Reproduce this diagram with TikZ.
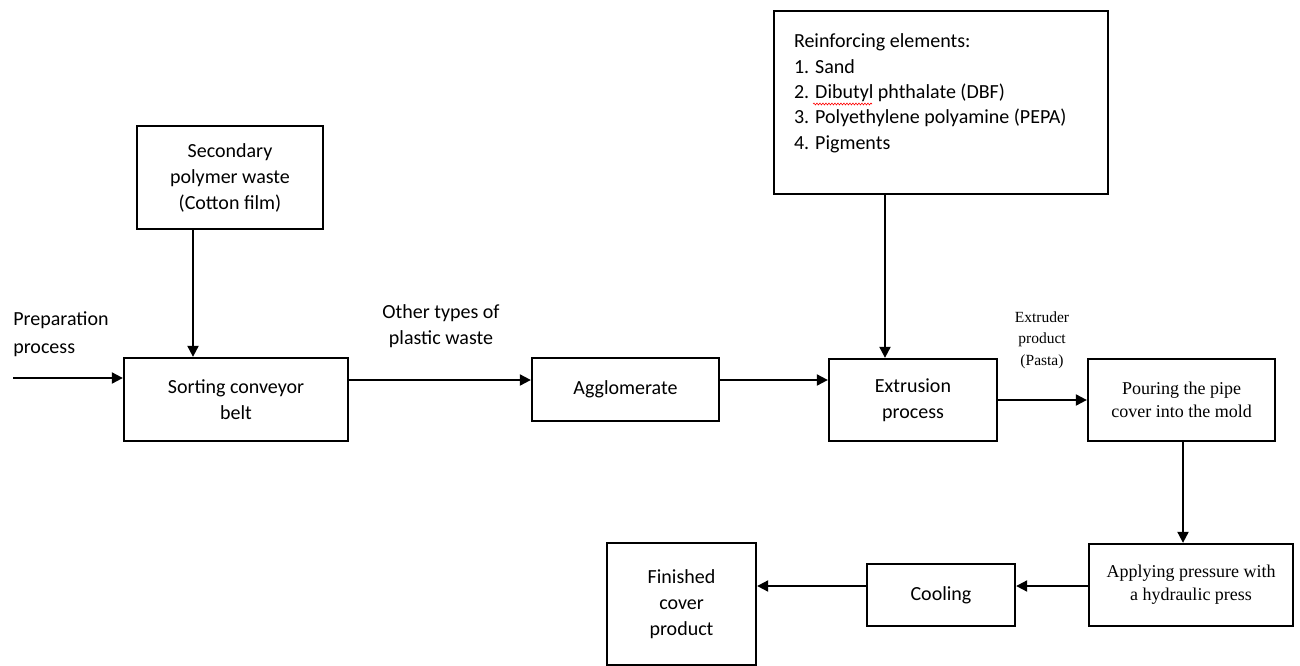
\documentclass[tikz,border=0pt]{standalone}
\usepackage{fontspec}
\setmainfont{Carlito}
\newfontfamily\serifnr{Liberation Serif}
\usetikzlibrary{arrows.meta,decorations.pathmorphing}
\tikzset{ block/.style={draw,line width=2.3pt,align=center,inner sep=2pt,font=\fontsize{20}{26}\selectfont},
  tnrblock/.style={block,font=\serifnr\fontsize{18}{23}\selectfont} }

\begin{document}
\begin{tikzpicture}[x=1pt,y=-1pt,-{Triangle[width=11pt,length=11pt]},line width=2pt]
   \useasboundingbox (0,0) rectangle (1300,666);
   \node[block,minimum width=186pt,minimum height=103pt] (waste) at (230,177.5) {Secondary\\polymer waste\\(Cotton film)};
   \node[block,minimum width=224pt,minimum height=83pt] (sort) at (236,399.5) {Sorting conveyor\\belt};
   \node[block,minimum width=187pt,minimum height=63pt] (agg) at (625.5,389.5) {Agglomerate};
   \node[block,minimum width=168pt,minimum height=82pt] (extr) at (913,400) {Extrusion\\process};
   \node[block,minimum width=334pt,minimum height=183pt] (reinf) at (941,102.5) {};
   \node[anchor=north west,align=left,inner sep=0pt,font=\fontsize{20}{25.3}\selectfont] (reinftxt) at (793,33)
      {Reinforcing elements:\\1. Sand\\2. Dibutyl phthalate (DBF)\\3. Polyethylene polyamine (PEPA)\\4. Pigments};
   \node[tnrblock,minimum width=187pt,minimum height=82pt] (pour) at (1181.5,400) {Pouring the pipe\\cover into the mold};
   \node[tnrblock,minimum width=204pt,minimum height=82pt] (press) at (1191,585) {Applying pressure with\\a hydraulic press};
   \node[block,minimum width=148pt,minimum height=62pt] (cool) at (941,595) {Cooling};
   \node[block,minimum width=149pt,minimum height=122pt] (fin) at (681.5,604) {Finished\\cover\\product};
   % labels
   \node[anchor=west,align=left,font=\fontsize{20}{28}\selectfont] (preplbl) at (9,334) {Preparation\\process};
   \node[align=center,font=\fontsize{20}{26}\selectfont] (otherlbl) at (441,326) {Other types of\\plastic waste};
   \node[align=center,font=\serifnr\fontsize{15.5}{21.5}\selectfont] (pastalbl) at (1042,340) {Extruder\\product\\(Pasta)};
   \draw[-,red,line width=0.6pt,decorate,decoration={snake,amplitude=0.9pt,segment length=3pt}] (813,104) -- (872,104);
   % flow
   \coordinate (prep) at (13,378);
   \draw (prep) -- (prep -| sort.west);
   \draw ([xshift=-37pt]waste.south) -- ([xshift=-43pt]sort.north);
   \draw (sort.east |- 0,380) -- (agg.west |- 0,380);
   \draw (agg.east |- 0,380) -- (extr.west |- 0,380);
   \draw (reinf.south -| 885,0) -- (extr.north -| 885,0);
   \draw (extr.east) -- (pour.west);
   \draw (pour.south -| 1183,0) -- (press.north -| 1183,0);
   \draw (press.west |- 0,586) -- (cool.east |- 0,586);
   \draw (cool.west |- 0,586) -- (fin.east |- 0,586);
\end{tikzpicture}
\end{document}
